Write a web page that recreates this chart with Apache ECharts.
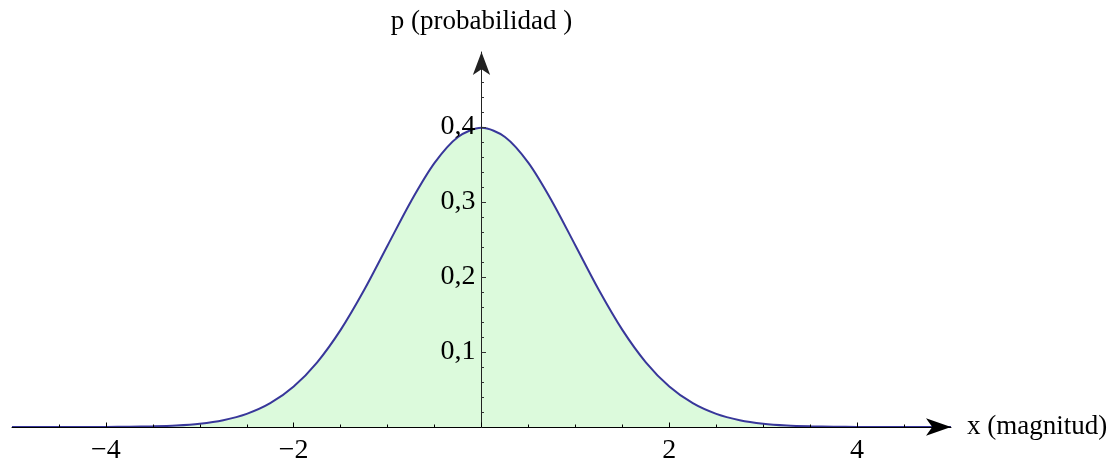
<!DOCTYPE html>
<html>
<head>
<meta charset="utf-8">
<script src="https://cdn.jsdelivr.net/npm/echarts@6/dist/echarts.min.js"></script>
<style>
  html, body { margin: 0; padding: 0; background: #fff; }
  #chart { width: 1116px; height: 461px; }
</style>
</head>
<body>
<div id="chart"></div>
<script>
// Standard normal density p(x), sampled every 0.25 from -5 to 5
const xValues = [
  -5, -4.75, -4.5, -4.25, -4, -3.75, -3.5, -3.25, -3, -2.75, -2.5, -2.25, -2, -1.75, -1.5, -1.25, -1, -0.75, -0.5, -0.25,
  0, 0.25, 0.5, 0.75, 1, 1.25, 1.5, 1.75, 2, 2.25, 2.5, 2.75, 3, 3.25, 3.5, 3.75, 4, 4.25, 4.5, 4.75, 5
];
const pValues = [
  0.0000, 0.0000, 0.0000, 0.0001, 0.0001, 0.0004, 0.0009, 0.0020, 0.0044, 0.0091, 0.0175, 0.0317, 0.0540, 0.0863, 0.1295, 0.1826, 0.2420, 0.3011, 0.3521, 0.3867,
  0.3989, 0.3867, 0.3521, 0.3011, 0.2420, 0.1826, 0.1295, 0.0863, 0.0540, 0.0317, 0.0175, 0.0091, 0.0044, 0.0020, 0.0009, 0.0004, 0.0001, 0.0001, 0.0000, 0.0000, 0.0000
];

// Tick positions and labels
const xLabelTicks = [-4, -2, 2, 4];
const xMajorTicks = [-4, -2, 0, 2, 4];
const xMinorTicks = [-4.5, -4, -3.5, -3, -2.5, -2, -1.5, -1, -0.5, 0.5, 1, 1.5, 2, 2.5, 3, 3.5, 4, 4.5];
const yLabelTicks = [0.1, 0.2, 0.3, 0.4];
const yMinorTicks = [0.02, 0.04, 0.06, 0.08, 0.1, 0.12, 0.14, 0.16, 0.18, 0.2, 0.22, 0.24, 0.26, 0.28, 0.3,
  0.32, 0.34, 0.36, 0.38, 0.4, 0.42, 0.44, 0.46, 0.48];

const xName = 'x (magnitud)';
const yName = 'p (probabilidad )';

const FONT = '"Liberation Serif", "Times New Roman", serif';
const AXIS_COLOR = '#000';

const GRID_LEFT = 12;
const GRID_WIDTH = 939;
const X_MIN = -5, X_MAX = 5;
// Shift of the vertical axis from the grid's left edge to x = 0
const Y_AXIS_SHIFT = -(GRID_WIDTH * (0 - X_MIN) / (X_MAX - X_MIN));

const fmtX = v => (v < 0 ? '\u2212' + Math.abs(v) : String(v));
const fmtY = v => v.toFixed(1).replace('.', ',');

const chart = echarts.init(document.getElementById('chart'), null, { renderer: 'canvas' });

chart.setOption({
  animation: false,
  backgroundColor: '#ffffff',
  grid: { left: GRID_LEFT, width: GRID_WIDTH, top: 52, bottom: 34, containLabel: false, outerBoundsMode: 'none' },
  xAxis: [
    {
      type: 'value', min: X_MIN, max: X_MAX, position: 'bottom', z: 5,
      splitLine: { show: false },
      name: xName, nameLocation: 'end', nameGap: 16,
      nameTextStyle: { fontFamily: FONT, fontSize: 27, color: '#000', align: 'left', verticalAlign: 'middle', padding: [0, 0, 14, 0] },
      axisLine: { show: true, onZero: true, lineStyle: { color: AXIS_COLOR, width: 1 },
        symbol: ['none', 'arrow'], symbolSize: [13, 25], symbolOffset: [0, 0] },
      axisTick: { show: true, inside: true, length: 2.5, customValues: xMinorTicks, lineStyle: { color: AXIS_COLOR } },
      axisLabel: { show: true, customValues: xLabelTicks, formatter: fmtX, margin: 10,
        fontFamily: FONT, fontSize: 28, color: '#000' }
    },
    {
      type: 'value', min: X_MIN, max: X_MAX, position: 'bottom', z: 5,
      splitLine: { show: false },
      axisLine: { show: false, onZero: true },
      axisTick: { show: true, inside: true, length: 4.5, customValues: xMajorTicks, lineStyle: { color: AXIS_COLOR } },
      axisLabel: { show: false }
    }
  ],
  yAxis: [
    {
      type: 'value', min: 0, max: 0.5, position: 'left', offset: Y_AXIS_SHIFT, z: 5,
      splitLine: { show: false },
      name: yName, nameLocation: 'end', nameGap: 17,
      nameTextStyle: { fontFamily: FONT, fontSize: 27, color: '#000', align: 'center' },
      axisLine: { show: true, onZero: false, lineStyle: { color: '#222', width: 1 },
        symbol: ['none', 'arrow'], symbolSize: [13, 23], symbolOffset: [0, 0] },
      axisTick: { show: true, inside: true, length: 2.5, customValues: yMinorTicks, lineStyle: { color: '#333' } },
      axisLabel: { show: true, customValues: yLabelTicks, formatter: fmtY, margin: 6,
        fontFamily: FONT, fontSize: 28, color: '#000' }
    },
    {
      type: 'value', min: 0, max: 0.5, position: 'left', offset: Y_AXIS_SHIFT, z: 5,
      splitLine: { show: false },
      axisLine: { show: false, onZero: false },
      axisTick: { show: true, inside: true, length: 4.5, customValues: yLabelTicks, lineStyle: { color: '#333' } },
      axisLabel: { show: false }
    }
  ],
  series: [
    {
      type: 'line',
      xAxisIndex: 0, yAxisIndex: 0,
      data: xValues.map((x, i) => [x, pValues[i]]),
      smooth: 0.3,
      symbol: 'none',
      z: 2,
      lineStyle: { color: '#38379a', width: 2 },
      areaStyle: { color: '#dcfadc', opacity: 1, origin: 'start' }
    }
  ]
});
</script>
</body>
</html>
